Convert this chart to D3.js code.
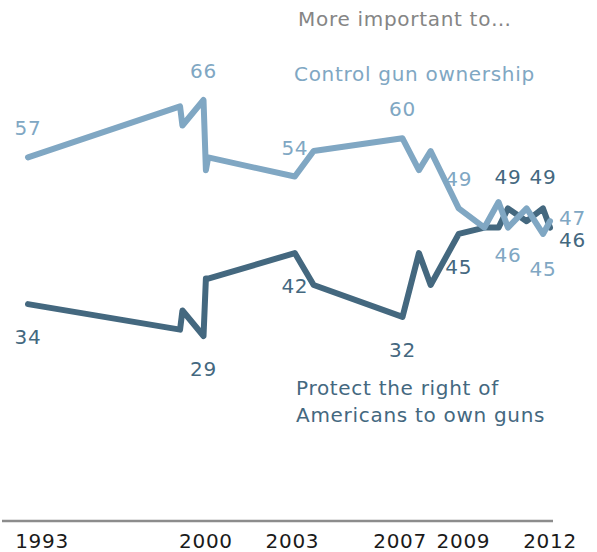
<!DOCTYPE html>
<html>
<head>
<meta charset="utf-8">
<script src="https://cdnjs.cloudflare.com/ajax/libs/d3/7.8.5/d3.min.js"></script>
<style>
  body { margin: 0; background: #fff; }
  text { font-family: "DejaVu Sans", Verdana, sans-serif; font-size: 20px; letter-spacing: 0.7px; }
</style>
</head>
<body>
<div class="container"></div>
<script>
// survey dates (year-month)
var dates = ["1993-12","1999-05","1999-06","2000-03","2000-04","2000-05","2003-06","2004-02",
             "2007-04","2007-11","2008-04","2009-04","2010-03","2010-09","2011-01","2011-09",
             "2012-04","2012-07"];
var controlGuns = [57,65,62,66,55,57,54,58,60,55,58,49,46,50,46,49,45,47];
var gunRights   = [34,30,33,29,38,38,42,37,32,42,37,45,46,46,49,47,49,46];

// which points carry a value label
var controlLabeled = [0,3,6,8,11,14,16,17];
var rightsLabeled  = [0,3,6,8,11,14,16,17];

var tickLabels = ["1993","2000","2003","2007","2009","2012"];
var tickDates  = ["1994-06","2000-04","2003-05","2007-03","2009-06","2012-07"];

var W = 597, H = 552;
var lightBlue = "#80a7c3", darkBlue = "#44687f";

var parse = d3.timeParse("%Y-%m");
function mid(s){ var d = parse(s); d.setDate(15); return d; }

var svg = d3.select('.container').append('svg')
    .attr('width', W).attr('height', H);

var x = d3.scaleTime()
    .domain([mid("1993-12"), mid("2012-07")])
    .range([28, 550]);
var y = d3.scaleLinear()
    .domain([0, 66])
    .range([521, 100]);

var control = dates.map(function(d, i){ return {date: mid(d), v: controlGuns[i], i: i}; });
var rights  = dates.map(function(d, i){ return {date: mid(d), v: gunRights[i], i: i}; });

// baseline
svg.append('line')
    .attr('x1', 2).attr('x2', 553)
    .attr('y1', y(0)).attr('y2', y(0))
    .attr('stroke', '#8c8c8c').attr('stroke-width', 2.5);

// year labels
svg.selectAll('text.tick')
    .data(tickLabels)
    .enter().append('text')
    .attr('class', 'tick')
    .attr('x', function(d, i){ return x(mid(tickDates[i])); })
    .attr('y', 548)
    .attr('text-anchor', 'middle')
    .attr('fill', '#1a1a1a')
    .text(function(d){ return d; });

var line = d3.line()
    .x(function(d){ return x(d.date); })
    .y(function(d){ return y(d.v); });

svg.append('path').datum(rights)
    .attr('d', line)
    .attr('fill', 'none').attr('stroke', darkBlue)
    .attr('stroke-width', 6).attr('stroke-linejoin', 'round').attr('stroke-linecap', 'round');

svg.append('path').datum(control)
    .attr('d', line)
    .attr('fill', 'none').attr('stroke', lightBlue)
    .attr('stroke-width', 6).attr('stroke-linejoin', 'round').attr('stroke-linecap', 'round');

// label placement: above, below, or right of the point
function controlPlace(i){
  if(i == 14) return {dx: 0, dy: 34, a: 'middle'};
  if(i == 16) return {dx: 0, dy: 42, a: 'middle'};
  if(i == 17) return {dx: 9, dy: 4, a: 'start'};
  return {dx: 0, dy: -22, a: 'middle'};
}
function rightsPlace(i){
  if(i == 14 || i == 16) return {dx: 0, dy: -24, a: 'middle'};
  if(i == 17) return {dx: 9, dy: 19, a: 'start'};
  return {dx: 0, dy: 40, a: 'middle'};
}

function addLabels(data, idx, place, color, cls){
  svg.selectAll('text.' + cls)
     .data(idx.map(function(i){ return data[i]; }))
     .enter().append('text')
     .attr('class', cls)
     .attr('x', function(d){ return x(d.date) + place(d.i).dx; })
     .attr('y', function(d){ return y(d.v) + place(d.i).dy; })
     .attr('text-anchor', function(d){ return place(d.i).a; })
     .attr('fill', color)
     .text(function(d){ return d.v; });
}
addLabels(control, controlLabeled, controlPlace, lightBlue, 'lc');
addLabels(rights, rightsLabeled, rightsPlace, darkBlue, 'lr');

// titles
svg.append('text').attr('x', 298).attr('y', 26).attr('fill', '#858585').text('More important to\u2026');
svg.append('text').attr('x', 294).attr('y', 81).attr('fill', lightBlue).text('Control gun ownership');
var rt = svg.append('text').attr('x', 296).attr('y', 395).attr('fill', darkBlue);
rt.append('tspan').attr('x', 296).text('Protect the right of');
rt.append('tspan').attr('x', 296).attr('dy', 27).text('Americans to own guns');
</script>
</body>
</html>
